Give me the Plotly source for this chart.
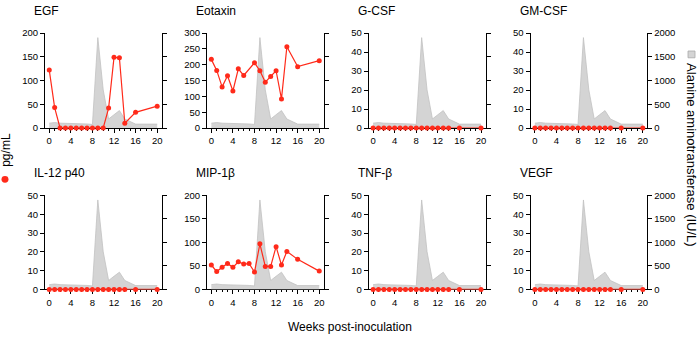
import plotly.graph_objects as go

# ---- data ----
weeks = [0, 1, 2, 3, 4, 5, 6, 7, 8, 9, 10, 11, 12, 13, 14, 16, 20]
alt = [102, 115, 102, 100, 88, 100, 98, 85, 75, 1905, 803, 190, 280, 367, 190, 82, 82]

panel_names = ["EGF", "Eotaxin", "G-CSF", "GM-CSF", "IL-12 p40", "MIP-1β", "TNF-β", "VEGF"]
egf = [122, 43, 0, 0, 0, 0, 0, 0, 0, 0, 0, 42, 149, 148, 10, 33, 46]
eotaxin = [217, 182, 130, 165, 117, 187, 166, None, 206, 181, 145, 163, 181, 92, 257, 194, 213]
gcsf = [0] * 17
gmcsf = [0] * 17
il12p40 = [0] * 17
mip1b = [52, 38, 47, 55, 47, 59, 54, 55, 37, 97, 49, 49, 91, 52, 81, 64, 39]
tnfb = [0] * 17
vegf = [0] * 17
series = [egf, eotaxin, gcsf, gmcsf, il12p40, mip1b, tnfb, vegf]
y_max = [200, 300, 50, 50, 50, 200, 50, 50]
y_step = [50, 50, 10, 10, 10, 50, 10, 10]
x_ticks = [0, 4, 8, 12, 16, 20]
alt_ticks = [0, 500, 1000, 1500, 2000]

# ---- layout geometry (pixels) ----
W, H = 700, 347
col_left = [45, 207.3, 369.3, 531.3]
pw = 117
row_top = [28, 195.7]
row_bot = [126, 292.7]

RED = "#ff2a1a"
FONT = "Liberation Sans, Arial, sans-serif"
TICKSZ = 9.5

fig = go.Figure()
layout = dict(
    width=W, height=H, margin=dict(l=0, r=0, t=0, b=0),
    paper_bgcolor="white", plot_bgcolor="white", showlegend=False,
    font=dict(family=FONT, color="black"),
)
annotations = []
shapes = []

for i in range(8):
    n = i + 1
    r, c = divmod(i, 4)
    xd = [col_left[c] / W, (col_left[c] + pw) / W]
    yd = [1 - row_bot[r] / H, 1 - row_top[r] / H]
    # ALT area (base axis)
    fig.add_trace(go.Scatter(
        x=weeks, y=alt, mode="lines", fill="tozeroy",
        fillcolor="#d4d4d4", line=dict(color="#c2c2c2", width=0.8),
        xaxis=f"x{n}", yaxis=f"y{n}", hoverinfo="skip"))
    # cytokine
    fig.add_trace(go.Scatter(
        x=weeks, y=series[i], mode="lines+markers", connectgaps=True,
        line=dict(color=RED, width=1.2), marker=dict(size=5, color=RED),
        cliponaxis=False, xaxis=f"x{n}", yaxis=f"y{8 + n}"))

    layout[f"xaxis{n}"] = dict(
        domain=xd, anchor=f"y{n}", range=[-0.8, 20.85],
        tickvals=x_ticks, ticks="outside", ticklen=4, tickcolor="black",
        minor=dict(dtick=1, ticks="outside", ticklen=2, tickcolor="black"),
        showline=True, linecolor="black", linewidth=1,
        showgrid=False, zeroline=False, tickfont=dict(size=TICKSZ),
        layer="below traces")
    layout[f"yaxis{n}"] = dict(
        domain=yd, anchor=f"x{n}", side="right", range=[0, 2000],
        tickvals=alt_ticks, ticks="outside", ticklen=4, tickcolor="black",
        showticklabels=(c == 3), showline=True, linecolor="black",
        linewidth=1, showgrid=False, zeroline=False,
        tickfont=dict(size=TICKSZ))
    layout[f"yaxis{8 + n}"] = dict(
        overlaying=f"y{n}", anchor=f"x{n}", side="left",
        range=[0, y_max[i]], dtick=y_step[i], tick0=0,
        ticks="outside", ticklen=4, tickcolor="black",
        showline=True, linecolor="black", linewidth=1,
        showgrid=False, zeroline=False, tickfont=dict(size=TICKSZ))

    title_y = [5.5, 172.5][r]
    annotations.append(dict(
        text=panel_names[i], x=(col_left[c] - 13) / W, y=1 - title_y / H,
        xref="paper", yref="paper", xanchor="left", yanchor="middle",
        showarrow=False, font=dict(size=12)))

# common labels
annotations.append(dict(
    text="Weeks post-inoculation", x=350 / W, y=1 - 331 / H,
    xref="paper", yref="paper", xanchor="center", yanchor="middle",
    showarrow=False, font=dict(size=12)))
annotations.append(dict(
    text="pg/mL", x=6.5 / W, y=1 - 148 / H, textangle=-90,
    xref="paper", yref="paper", xanchor="center", yanchor="middle",
    showarrow=False, font=dict(size=12)))
annotations.append(dict(
    text="Alanine aminotransferase (IU/L)", x=692.5 / W, y=1 - 153.5 / H,
    textangle=90, xref="paper", yref="paper", xanchor="center",
    yanchor="middle", showarrow=False, font=dict(size=13)))

# legend symbols
shapes.append(dict(type="circle", xref="paper", yref="paper",
                   x0=1.5 / W, x1=8.5 / W, y0=1 - 182.5 / H, y1=1 - 175.5 / H,
                   fillcolor=RED, line=dict(color=RED, width=0)))
shapes.append(dict(type="rect", xref="paper", yref="paper",
                   x0=689 / W, x1=696 / W, y0=1 - 53.5 / H, y1=1 - 46.5 / H,
                   fillcolor="#d4d4d4", line=dict(color="#a8a8a8", width=0.8)))

layout["annotations"] = annotations
layout["shapes"] = shapes
fig.update_layout(**layout)
fig.write_html(
    "out.html",
    config={"displayModeBar": False},
    post_script="document.body.style.margin='0';document.body.style.overflow='hidden';",
)
